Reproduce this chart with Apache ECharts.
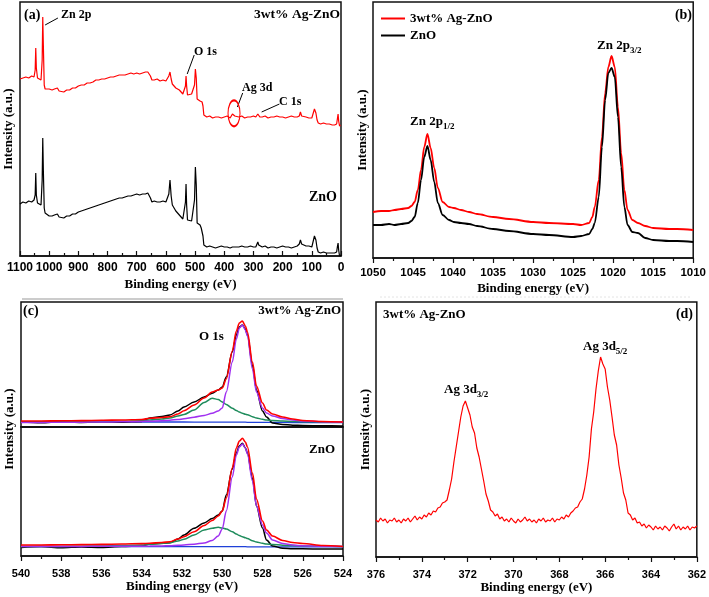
<!DOCTYPE html>
<html><head><meta charset="utf-8">
<script src="https://cdn.jsdelivr.net/npm/echarts/dist/echarts.min.js"></script>
<style>html,body{margin:0;padding:0;background:#fff}#c{width:709px;height:597px}</style>
</head><body><div id="c"></div>
<script>
// ---------- (a) survey ----------
const surveyEnergy = [1100,1090,1080,1070,1060,1052,1048,1046,1044,1040,1035,1028,1024,1022,1020,1017,1014,1008,1000,990,982,977,972,966,960,950,940,930,920,910,900,890,880,870,860,850,840,830,820,810,800,790,780,770,760,750,740,730,720,710,700,690,680,670,662,657,653,648,640,630,620,610,600,595,590,586,582,578,572,566,560,554,548,542,536,533,531,529,526,520,512,506,502,499,496,493,488,483,479,476,473,470,466,460,450,440,430,420,410,400,390,380,375,372,368,364,360,350,340,330,320,310,300,292,288,285,282,278,270,260,250,240,230,220,210,200,190,180,170,160,150,143,139,135,130,120,110,104,100,95,91,89,86,82,78,70,60,50,40,30,22,15,12,10,8,5,2,0];
const surveyAgZnO = [177,178,179,178,180,179,186,208,188,178,177,176,196,239,211,171,167,167,167,166,167,169,168,165,163,164,166,166,168,168,170,171,171,173,173,174,176,176,177,177,178,179,179,180,181,181,181,182,183,182,183,182,183,184,184,185,180,176,176,177,175,176,175,176,180,184,177,172,170,168,167,166,164,162,161,170,180,170,161,161,162,160,171,187,178,157,156,155,156,154,150,141,139,139,140,138,139,139,138,139,140,138,140,142,141,140,139,139,140,138,139,139,140,139,140,142,140,139,139,140,138,139,139,140,139,139,138,139,140,139,139,140,144,140,139,139,138,139,138,139,147,149,143,136,133,132,133,132,132,131,131,132,138,142,135,130,131,131];
const surveyZnO = [52,54,53,55,54,56,61,83,61,53,52,51,76,118,86,48,43,42,40,40,41,43,42,39,37,38,40,40,42,42,44,45,46,47,48,49,50,51,52,53,54,55,56,57,58,58,59,60,60,61,62,61,62,62,63,64,58,54,55,54,54,55,54,56,62,76,60,51,48,45,43,41,39,37,36,54,72,51,36,36,35,34,56,89,71,33,32,31,28,27,20,11,9,9,10,9,8,9,10,9,9,8,9,9,9,9,8,9,10,9,9,10,9,9,11,14,11,9,9,10,8,9,9,8,9,10,9,9,8,9,10,12,16,12,10,10,10,11,9,11,20,22,16,8,4,3,4,3,3,3,3,4,10,13,6,0,0,1];
// annotation arrows [fromEnergy, fromIntensity, toEnergy, toIntensity]
const surveyArrows = [[970,238,1014,231],[503,201,527,182],[337,163,355,149],[211,152,272,144]];
const agCircle = [366.6, 142.7];

// ---------- (b) Zn 2p ----------
const zn2pEnergy = [1050,1049,1048,1047.3,1046.5,1045.6,1045.2,1044.8,1044.4,1044.0,1043.6,1043.2,1042.8,1042.35,1041.9,1041.3,1040.5,1039.9,1039,1038,1037,1035,1033,1030,1028,1025,1024,1023,1022.6,1022.3,1021.8,1021.4,1021.0,1020.6,1020.2,1019.8,1019.4,1019.0,1018.6,1018.2,1017.6,1016.9,1016,1015,1013,1012,1010];
const zn2pAgZnO = [46,47,47,48,49,50,52,56,68,88,111,124,110,90,70,56,51,50,48,46,44,41,39,36,35,34,33,35,41,51,78,121,165,191,202,191,151,105,68,48,38,35,32,30,29,29,28];
const zn2pZnO = [33,33,34,33,34,35,37,41,55,78,101,112,98,76,55,43,38,36,35,34,32,29,27,24,23,21,22,24,29,35,61,111,158,185,190,181,141,91,51,33,26,25,20,18,17,17,16];

// ---------- (c) O 1s ----------
const o1sEnergy = [540,539,538,537,536,535,534,533.6,533,532.6,532.2,531.9,531.4,530.9,530.5,530.2,530.0,529.8,529.5,529.3,529.15,529.0,528.85,528.75,528.5,528.3,528.0,527.8,527.5,527.0,526.5,526,525,524];
const o1sAgRaw  = [5,4.3,5.4,4.6,5.2,4.8,5.6,9,10.5,12,16,20,25,30,33.7,37,40,50,75,92,100,102,98,92,62,37,16,10,4,2.5,1.8,1.5,1.2,1];
const o1sAgFit  = [6,6,6.2,6.4,6.7,7,7.5,8.7,9.5,10.3,13,16.3,22,29,35,37,39,48,76,96,104,106,101,95,65,41,24,17,13,10,8,6.5,5.5,5];
const o1sAgLat  = [4.5,4.6,4.7,4.8,5,5.2,5.5,5.8,6.3,6.8,7.5,8.2,9.8,11.5,13.7,16,19,35,65,88,99,102,97,91,58,35,19,14,11,8.5,7,6,5.3,5];
const o1sAgDef  = [5,5,5.1,5.2,5.4,5.7,6.3,7,8,9,11,12.5,17,24.5,28.7,27.5,25,22.5,18.7,16.5,15,13.7,12.8,12.3,10.3,9,7.7,7,6.5,6,5.6,5.3,5,4.8];
const o1sAgBase = [5.3,5.3,5.2,5.2,5.1,5.1,5,5,5,5,5,5,4.9,4.9,4.9,4.9,4.9,4.8,4.8,4.8,4.8,4.8,4.8,4.7,4.7,4.7,4.7,4.6,4.6,4.6,4.5,4.5,4.5,4.4];
const o1sZnRaw  = [8.5,9.4,8.2,9.1,8.6,9.5,10,12,12.8,13.3,17,21,27.7,33,37.5,41,45,61,87,103,110,112.7,108,103,78,50,28,16,10,7.7,7.3,7.2,7,7];
const o1sZnFit  = [11,11,11.2,11.4,11.6,12,12.4,12.7,13.5,14.3,17,19.3,24.3,30.5,35.5,40,45,58,88,108,115,117.7,114,109,83,57,35,26,20,15.5,13.5,12.5,10.5,9.5];
const o1sZnLat  = [9.5,9.5,9.6,9.6,9.7,9.7,9.8,9.9,10,10.3,10.7,11,11.8,13,15.5,20,27,45,79,101,109,112,108,102,75,50,31,23,16,12.5,11,10.2,9.7,9.5];
const o1sZnDef  = [9.4,9.5,9.6,9.8,10,10.4,11,11.7,12.5,13.3,15,16.7,21,26,27.7,28.7,28,27,24.3,22,20.5,19.3,18.3,17.5,15.3,14,12.7,12,11.5,10.8,10.4,10.1,9.7,9.5];
const o1sZnBase = [9.5,9.5,9.5,9.4,9.4,9.4,9.4,9.4,9.4,9.4,9.3,9.3,9.3,9.3,9.3,9.3,9.3,9.3,9.3,9.3,9.3,9.3,9.3,9.2,9.2,9.2,9.2,9.2,9.2,9.2,9.1,9.1,9.1,9.1];

// ---------- (d) Ag 3d ----------
const ag3dEnergy = [376.0,375.9,375.8,375.7,375.6,375.5,375.4,375.3,375.2,375.1,375.0,374.9,374.8,374.7,374.6,374.5,374.4,374.3,374.2,374.1,374.0,373.9,373.8,373.7,373.6,373.5,373.4,373.3,373.2,373.1,373.0,372.9,372.8,372.7,372.6,372.5,372.4,372.3,372.2,372.1,372.0,371.9,371.8,371.7,371.6,371.5,371.4,371.3,371.2,371.1,371.0,370.9,370.8,370.7,370.6,370.5,370.4,370.3,370.2,370.1,370.0,369.9,369.8,369.7,369.6,369.5,369.4,369.3,369.2,369.1,369.0,368.9,368.8,368.7,368.6,368.5,368.4,368.3,368.2,368.1,368.0,367.9,367.8,367.7,367.6,367.5,367.4,367.3,367.2,367.1,367.0,366.9,366.8,366.7,366.6,366.5,366.4,366.3,366.2,366.1,366.0,365.9,365.8,365.7,365.6,365.5,365.4,365.3,365.2,365.1,365.0,364.9,364.8,364.7,364.6,364.5,364.4,364.3,364.2,364.1,364.0,363.9,363.8,363.7,363.6,363.5,363.4,363.3,363.2,363.1,363.0,362.9,362.8,362.7,362.6,362.5,362.4,362.3,362.2,362.1,362.0];
const ag3dIntensity = [37,35,39,36,38,34,37,36,39,35,37,34,38,36,39,35,38,41,37,40,38,42,40,44,42,46,45,49,50,54,55,57,67,78,95,110,125,140,151,156,149,142,130,124,109,100,88,76,63,56,47,45,41,43,38,40,36,38,35,39,36,34,38,35,37,40,36,38,35,37,34,38,36,39,35,37,36,39,35,38,37,40,38,42,40,44,46,49,50,55,58,68,82,100,128,145,168,186,200,193,188,170,157,140,122,112,92,79,64,57,44,42,37,39,34,35,31,33,29,32,30,27,31,28,30,27,31,29,26,30,33,28,31,27,30,28,31,27,30,29,31];

// tick labels
const surveyTicks = {min:0, max:1100, step:100};
const zn2pTicks = {min:1010, max:1050, step:5};
const o1sTicks = {min:524, max:540, step:2};
const ag3dTicks = {min:362, max:376, step:2};

const pair = (xs, ys) => xs.map((x, i) => [x, ys[i]]);
const SERIF = '"Liberation Serif","Times New Roman",serif';
const SANS = '"Liberation Sans",Arial,sans-serif';
const RED = '#ff0000', BLACK = '#000000', PURPLE = '#a030f0', GREEN = '#1f8c5c', BLUE = '#1f40d8';
const plain = v => String(v);

function xAx(grid, t, opt) {
  return Object.assign({
    type:'value', gridIndex:grid, min:t.min, max:t.max, interval:t.step, inverse:true,
    axisLine:{show:true, onZero:false, lineStyle:{color:'#111', width:1.5}},
    axisTick:{show:true, inside:false, length:5, lineStyle:{color:'#111', width:1.2}},
    minorTick:{show:true, splitNumber:2, length:3, lineStyle:{color:'#111', width:1.2}},
    axisLabel:{show:true, color:'#000', fontFamily:SANS, fontWeight:'bold', fontSize:11, margin:12,
      formatter:plain, showMinLabel:true, showMaxLabel:true},
    splitLine:{show:false},
    name:'Binding energy (eV)', nameLocation:'middle', nameGap:24,
    nameTextStyle:{color:'#000', fontFamily:SERIF, fontWeight:'bold', fontSize:13}
  }, opt || {});
}
function yAx(grid, max, named, gap) {
  return {
    type:'value', gridIndex:grid, min:0, max:max,
    axisLine:{show:false}, axisTick:{show:false}, axisLabel:{show:false}, splitLine:{show:false},
    name: named ? 'Intensity (a.u.)' : '', nameLocation:'middle', nameGap:gap || 5,
    nameTextStyle:{color:'#000', fontFamily:SERIF, fontWeight:'bold', fontSize:13}
  };
}
function line(name, xi, data, color, width, smooth) {
  return {type:'line', name, xAxisIndex:xi, yAxisIndex:xi, data, showSymbol:false, symbol:'none',
    smooth: smooth || false, smoothMonotone: smooth ? 'x' : undefined,
    lineStyle:{color, width}, itemStyle:{color}, silent:true, animation:false, z:3};
}
function txt(x, y, text, size, align, extra) {
  return Object.assign({type:'text', x, y, silent:true, z:10,
    style:{text, fill:'#000', font:'bold ' + size + 'px ' + SERIF, align:align || 'left', verticalAlign:'middle'}}, extra || {});
}
function subTxt(x, y, main, sub) {
  return {type:'text', x, y, silent:true, z:10, style:{
    text:'{m|' + main + '}{s|' + sub + '}', fill:'#000', align:'left', verticalAlign:'middle',
    rich:{m:{fontFamily:SERIF, fontWeight:'bold', fontSize:13, lineHeight:15, fill:'#000'},
          s:{fontFamily:SERIF, fontWeight:'bold', fontSize:9, lineHeight:10, padding:[9,0,0,0], fill:'#000'}}}};
}

const grids = [
  {left:20, top:2, width:321, height:254},
  {left:373, top:2, width:323, height:256},
  {left:21, top:302, width:322, height:125},
  {left:21, top:427, width:322, height:129},
  {left:376, top:302, width:322, height:255}
].map(g => Object.assign(g, {show:true, borderColor:'#111', borderWidth:1.5, backgroundColor:'transparent'}));

const redSurvey = line('Survey 3wt% Ag-ZnO', 0, pair(surveyEnergy, surveyAgZnO), RED, 1.2);
redSurvey.markLine = {silent:true, symbol:['none','arrow'], symbolSize:[0,6], animation:false,
  lineStyle:{color:'#000', width:1, type:'solid'}, label:{show:false},
  data: surveyArrows.map(a => [{coord:[a[0], a[1]]}, {coord:[a[2], a[3]]}])};
redSurvey.markPoint = {silent:true, animation:false, data:[{coord:agCircle, symbol:'circle', symbolSize:[12,26],
  itemStyle:{color:'rgba(0,0,0,0)', borderColor:RED, borderWidth:1.5}, label:{show:false}}]};

const option = {
  animation:false,
  backgroundColor:'#fff',
  grid: grids,
  xAxis: [
    xAx(0, surveyTicks, {axisTick:{show:true, inside:true, length:5, lineStyle:{color:'#111', width:1.2}},
      axisLabel:{show:true, color:'#000', fontFamily:SANS, fontWeight:'bold', fontSize:12, margin:6,
        formatter:plain, showMinLabel:true, showMaxLabel:true}, nameGap:22}),
    xAx(1, zn2pTicks, {axisLabel:{show:true, color:'#000', fontFamily:SANS, fontWeight:'bold', fontSize:11.5, margin:9,
        formatter:plain, showMinLabel:true, showMaxLabel:true}, nameGap:24}),
    xAx(2, o1sTicks, {axisTick:{show:false}, minorTick:{show:false}, axisLabel:{show:false}, name:''}),
    xAx(3, o1sTicks, {}),
    xAx(4, ag3dTicks, {})
  ],
  yAxis: [yAx(0, 254, true, 5), yAx(1, 256, true, 4), yAx(2, 125, false), yAx(3, 129, false), yAx(4, 255, true, 4)],
  legend: {show:true, orient:'vertical', left:376, top:7, itemWidth:24, itemHeight:2, itemGap:4, icon:'rect',
    data:['3wt% Ag-ZnO', 'ZnO'], selectedMode:false,
    textStyle:{color:'#000', fontFamily:SERIF, fontWeight:'bold', fontSize:13}},
  series: [
    redSurvey,
    line('Survey ZnO', 0, pair(surveyEnergy, surveyZnO), BLACK, 1.2),
    line('3wt% Ag-ZnO', 1, pair(zn2pEnergy, zn2pAgZnO), RED, 1.8, 0.3),
    line('ZnO', 1, pair(zn2pEnergy, zn2pZnO), BLACK, 1.8, 0.3),
    line('AgZnO base', 2, pair(o1sEnergy, o1sAgBase), BLUE, 1.3),
    line('AgZnO raw', 2, pair(o1sEnergy, o1sAgRaw), BLACK, 1.5, 0.3),
    line('AgZnO defect', 2, pair(o1sEnergy, o1sAgDef), GREEN, 1.5, 0.3),
    line('AgZnO lattice', 2, pair(o1sEnergy, o1sAgLat), PURPLE, 1.5, 0.3),
    line('AgZnO fit', 2, pair(o1sEnergy, o1sAgFit), RED, 1.6, 0.3),
    line('ZnO base', 3, pair(o1sEnergy, o1sZnBase), BLUE, 1.3),
    line('ZnO raw', 3, pair(o1sEnergy, o1sZnRaw), BLACK, 1.5, 0.3),
    line('ZnO defect', 3, pair(o1sEnergy, o1sZnDef), GREEN, 1.5, 0.3),
    line('ZnO lattice', 3, pair(o1sEnergy, o1sZnLat), PURPLE, 1.5, 0.3),
    line('ZnO fit', 3, pair(o1sEnergy, o1sZnFit), RED, 1.6, 0.3),
    line('Ag 3d', 4, pair(ag3dEnergy, ag3dIntensity), RED, 1.2)
  ],
  graphic: [
    txt(24, 15, '(a)', 14),
    txt(61, 15, 'Zn 2p', 12),
    txt(340, 15, '3wt% Ag-ZnO', 13.5, 'right'),
    txt(194, 52, 'O 1s', 12),
    txt(242, 87.5, 'Ag 3d', 12),
    txt(279, 101.5, 'C 1s', 12),
    txt(337, 197.5, 'ZnO', 14, 'right'),
    {type:'line', silent:true, shape:{x1:22, y1:299, x2:343, y2:299}, style:{stroke:'#999', lineWidth:1}},
    {type:'line', silent:true, shape:{x1:380, y1:297, x2:690, y2:297}, style:{stroke:'#e4e4e4', lineWidth:1, lineDash:[2,2]}},
    txt(692, 15, '(b)', 14, 'right'),
    subTxt(597, 46, 'Zn 2p', '3/2'),
    subTxt(410, 122, 'Zn 2p', '1/2'),
    txt(23, 311, '(c)', 14),
    txt(341, 311, '3wt% Ag-ZnO', 13, 'right'),
    txt(199, 337, 'O 1s', 13),
    txt(335, 449.5, 'ZnO', 13, 'right'),
    txt(10, 429, 'Intensity (a.u.)', 13, 'center', {rotation:Math.PI/2}),
    txt(383, 315, '3wt% Ag-ZnO', 13),
    txt(693, 314, '(d)', 14, 'right'),
    subTxt(583, 347, 'Ag 3d', '5/2'),
    subTxt(444, 390, 'Ag 3d', '3/2')
  ]
};
const chart = echarts.init(document.getElementById('c'), null, {renderer:'canvas'});
chart.setOption(option);
</script></body></html>
